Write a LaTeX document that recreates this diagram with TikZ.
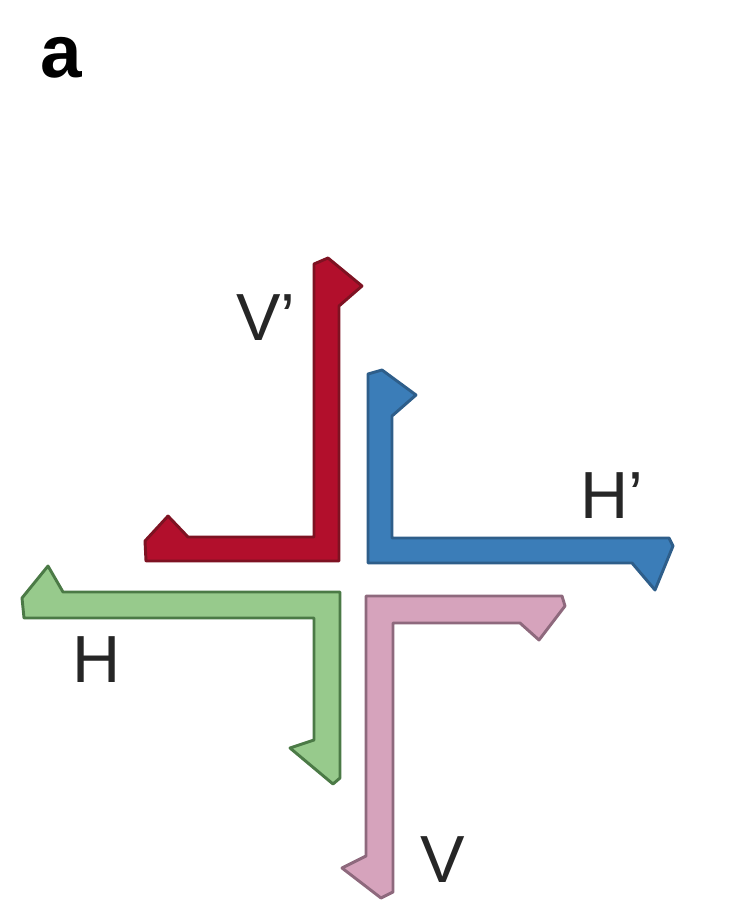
\documentclass[tikz,border=0pt]{standalone}
\usepackage{fontspec}
\setmainfont{Liberation Sans}
\definecolor{redfill}{HTML}{B20F2C}
\definecolor{redline}{HTML}{7E1222}
\definecolor{bluefill}{HTML}{3B7DB8}
\definecolor{blueline}{HTML}{2E5E8A}
\definecolor{greenfill}{HTML}{97CA8C}
\definecolor{greenline}{HTML}{4B7A46}
\definecolor{pinkfill}{HTML}{D6A3BC}
\definecolor{pinkline}{HTML}{8E697D}
\begin{document}
\begin{tikzpicture}[
        x=0.75pt, y=-0.75pt,
        polar/.style={inner sep=0pt, text=black!85, font=\fontsize{50}{60}\selectfont},
        tag/.style={inner sep=0pt, font=\fontsize{56}{64}\selectfont\bfseries},
        harpoon/.style={line width=2.2pt, line join=round},
        vprime/.style={harpoon, fill=redfill, draw=redline},
        hprime/.style={harpoon, fill=bluefill, draw=blueline},
        hpol/.style={harpoon, fill=greenfill, draw=greenline},
        vpol/.style={harpoon, fill=pinkfill, draw=pinkline}
    ]
        \useasboundingbox (0,0) rectangle (752,912);

        % Panel tag.
        \node[tag] (paneltag) at (61,58) {a};

        % Red L: up and to the left.
        \draw[vprime] (314,264) -- (328,258) -- (362,286) -- (339,306) -- (339,561)
            -- (146,561) -- (145,541) -- (168,516) -- (188,537) -- (314,537) -- cycle;
        \node[polar] (vplabel) at (266,318) {V'};

        % Blue L: up and to the right.
        \draw[hprime] (368,374) -- (382,370) -- (416,395) -- (392,416) -- (392,538)
            -- (669,538) -- (673,546) -- (655,590) -- (632,563) -- (368,563) -- cycle;
        \node[polar] (hplabel) at (612,496) {H'};

        % Green L: to the left and down.
        \draw[hpol] (24,618) -- (22,598) -- (48,566) -- (63,592) -- (340,592)
            -- (340,778) -- (333,784) -- (290,748) -- (314,740) -- (314,618) -- cycle;
        \node[polar] (hlabel) at (97,660) {H};

        % Pink L: to the right and down.
        \draw[vpol] (366,596) -- (562,596) -- (565,606) -- (539,640) -- (520,623)
            -- (393,623) -- (393,892) -- (381,898) -- (342,868) -- (366,856) -- cycle;
        \node[polar] (vlabel) at (443,860) {V};
    \end{tikzpicture}
\end{document}
